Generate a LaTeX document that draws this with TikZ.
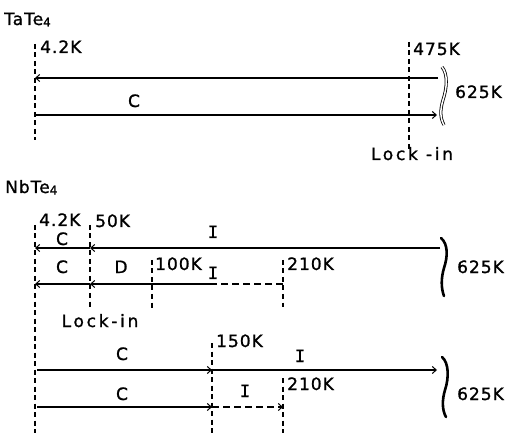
\documentclass[tikz,border=0pt]{standalone}
\usepackage{fontspec}
\setmainfont{DejaVu Sans}[LetterSpace=6,FakeBold=1.2]
\newfontfamily\serifI{DejaVu Sans Mono}[FakeBold=1.2]
\usetikzlibrary{arrows.meta}
\newcommand{\subf}[1]{{\fontsize{12}{12}\selectfont\raisebox{-1.5pt}{#1}}}
\newcommand{\romI}{{\serifI I}}
\begin{document}
\begin{tikzpicture}[x=1pt,y=-1pt,
  lbl/.style={font=\fontsize{17}{20}\selectfont, inner sep=0pt, anchor=base west},
  lblc/.style={lbl, anchor=base},
  lockin/.style={lblc, font=\fontsize{17}{20}\selectfont\addfontfeatures{LetterSpace=16}},
  vdash/.style={line width=1.6pt, dash pattern=on 5pt off 3.5pt},
  arr/.style={line width=1.1pt, -{Straight Barb[length=4pt,width=7pt,line width=1pt]}},
  hdash/.style={line width=1.1pt, dash pattern=on 7pt off 4pt},
  hdasharr/.style={hdash, -{Straight Barb[length=4pt,width=7pt,line width=1pt]}},
  brk/.style={line width=2.6pt, line cap=round},
  dbrk/.style={double, double distance=1.5pt, line width=0.8pt}]
\useasboundingbox (0,0) rectangle (508,435);

% ---------------- TaTe4 ----------------
\node[lbl] (tate) at (4,25) {TaTe\subf{4}};
\coordinate (ta1) at (35,44);  \coordinate (tb1) at (35,140);
\coordinate (ta2) at (409,42); \coordinate (tb2) at (409,150);
\draw[vdash] (ta1) -- (tb1);
\draw[vdash] (ta2) -- (tb2);
\coordinate (tr1) at (438,78);  \coordinate (tl1) at (35,78);
\coordinate (tl2) at (35,115);  \coordinate (tr2) at (437,115);
\draw[arr] (tr1) -- (tl1);
\draw[arr] (tl2) -- (tr2);
\node[lbl] (t42) at (40,53) {4.2K};
\node[lbl] (t475) at (413,55) {475K};
\node[lblc] (tC) at (134,107) {C};
\node[lbl] (t625) at (455,98) {625K};
\node[lockin] (tlock) at (412,160) {Lock -in};
\draw[dbrk] (442,67) .. controls (448,74) and (447,88) .. (443,100) .. controls (440,110) and (440,118) .. (444,125);

% ---------------- NbTe4 ----------------
\node[lbl] (nbte) at (5,193) {NbTe\subf{4}};
\coordinate (na1) at (35,225);  \coordinate (nb1) at (35,433);
\coordinate (na2) at (90,225);  \coordinate (nb2) at (90,307);
\coordinate (na3) at (152,260); \coordinate (nb3) at (152,308);
\coordinate (na4) at (283,260); \coordinate (nb4) at (283,307);
\coordinate (na5) at (212,343); \coordinate (nb5) at (212,433);
\coordinate (na6) at (283,378); \coordinate (nb6) at (283,433);
\foreach \i in {1,...,6} {\draw[vdash] (na\i) -- (nb\i);}

% row 1
\coordinate (r1e) at (440,248); \coordinate (r1m) at (90,248); \coordinate (r1s) at (35,248);
\draw[arr] (r1e) -- (r1m);
\draw[arr] (r1m) -- (r1s);
% row 2
\coordinate (r2e) at (283,284); \coordinate (r2d) at (213,284);
\coordinate (r2m) at (90,284);  \coordinate (r2s) at (35,284);
\draw[hdash] (r2e) -- (r2d);
\draw[arr] (r2d) -- (r2m);
\draw[arr] (r2m) -- (r2s);
% row 3
\coordinate (r3s) at (37,370); \coordinate (r3m) at (212,370); \coordinate (r3e) at (437,370);
\draw[arr] (r3s) -- (r3m);
\draw[arr] (r3m) -- (r3e);
% row 4
\coordinate (r4s) at (37,407); \coordinate (r4m) at (212,407); \coordinate (r4e) at (283,407);
\draw[arr] (r4s) -- (r4m);
\draw[hdasharr] (r4m) -- (r4e);

% labels
\node[lbl] (n42) at (39,226) {4.2K};
\node[lbl] (n50) at (95,227) {50K};
\node[lblc] (nC1) at (62,245) {C};
\node[lblc] (nI1) at (213,238) {\romI};
\node[lbl] (n100) at (155,270) {100K};
\node[lbl] (n210a) at (287,270) {210K};
\node[lblc] (nC2) at (62,273) {C};
\node[lblc] (nD) at (121,273) {D};
\node[lblc] (nI2) at (213,279) {\romI};
\node[lbl] (n625a) at (457,273) {625K};
\node[lockin] (nlock) at (100,327) {Lock-in};
\node[lbl] (n150) at (216,347) {150K};
\node[lblc] (nC3) at (122,360) {C};
\node[lblc] (nI3) at (300,362) {\romI};
\node[lbl] (n210b) at (287,390) {210K};
\node[lblc] (nC4) at (122,400) {C};
\node[lblc] (nI4) at (245,397) {\romI};
\node[lbl] (n625b) at (457,400) {625K};

% brackets
\draw[brk] (441,238) .. controls (448,244) and (448,256) .. (444,268) .. controls (441,278) and (441,288) .. (444,296);
\draw[brk] (442,357) .. controls (449,363) and (449,378) .. (445,390) .. controls (442,400) and (442,410) .. (446,417);
\end{tikzpicture}
\end{document}
